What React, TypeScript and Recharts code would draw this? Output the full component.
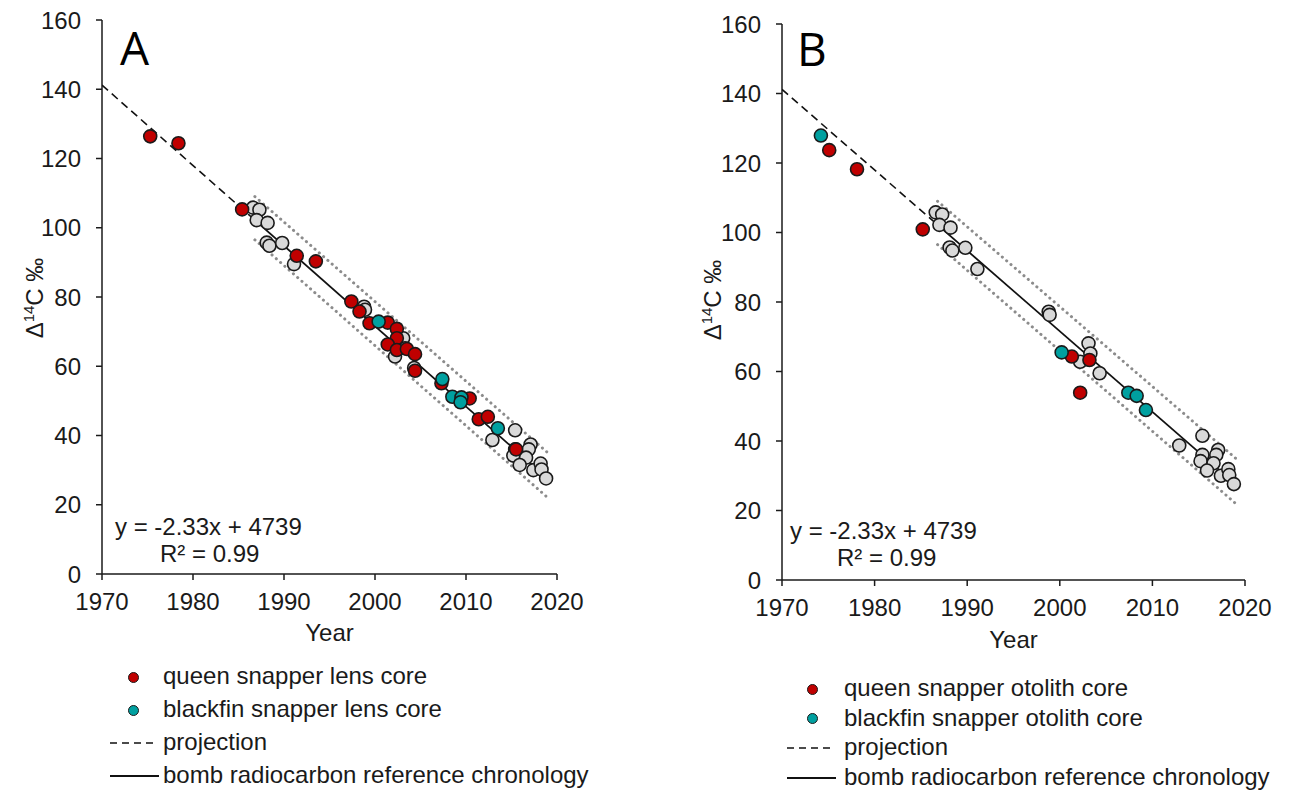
import React from 'react';
import { ScatterChart, Scatter, XAxis, YAxis } from 'recharts';

// [year, Δ14C ‰]
const referenceSamples = [
  [1986.6, 105.8], [1987.3, 105.2], [1987.0, 102.2], [1988.2, 101.4], [1988.1, 95.7],
  [1988.4, 94.8], [1989.8, 95.6], [1991.1, 89.5], [1998.8, 77.2], [1998.9, 76.3],
  [2003.1, 68.1], [2003.3, 65.2], [2002.2, 62.8], [2004.3, 59.5], [2012.9, 38.7],
  [2015.4, 41.5], [2015.4, 36.0], [2015.2, 34.2], [2017.1, 37.4], [2016.9, 36.0],
  [2016.6, 33.6], [2015.9, 31.5], [2017.4, 30.0], [2018.2, 31.9], [2018.3, 30.2],
  [2018.8, 27.6],
];

const queenLens = [
  [1975.3, 126.4], [1978.4, 124.4], [1985.4, 105.3], [1991.4, 91.9], [1993.5, 90.3],
  [1997.4, 78.7], [1998.3, 75.8], [1999.4, 72.4], [2001.4, 72.6], [2002.4, 70.8],
  [2002.4, 68.1], [2001.4, 66.3], [2002.4, 64.7], [2003.5, 65.0], [2004.4, 63.5],
  [2004.4, 58.7], [2007.3, 55.1], [2010.4, 50.7], [2011.4, 44.7], [2012.4, 45.4],
  [2015.5, 36.0],
];
const blackfinLens = [
  [2000.4, 72.9], [2007.4, 56.3], [2008.5, 51.2], [2009.5, 51.0], [2009.4, 49.6], [2013.5, 42.1],
];

const queenOtolith = [
  [1975.1, 123.7], [1978.1, 118.2], [1985.2, 100.9], [2001.3, 64.3], [2003.2, 63.3], [2002.2, 53.9],
];
const blackfinOtolith = [
  [1974.2, 127.9], [2000.2, 65.5], [2007.4, 53.9], [2008.3, 53.0], [2009.3, 48.9],
];

// regression lines
const projection = [[1970, 141.2], [1986.8, 102.2]];
const chronology = [[1986.8, 102.2], [2019.0, 27.5]];
const upperBand = [[1986.8, 109.0], [2019.0, 35.0]];
const lowerBand = [[1986.8, 96.5], [2019.0, 22.0]];

const yearTicks = [1970, 1980, 1990, 2000, 2010, 2020];
const d14cTicks = [0, 20, 40, 60, 80, 100, 120, 140, 160];

const RED = '#c00000';
const TEAL = '#00a0a0';
const GREY = '#d9d9d9';
const FONT = '"Liberation Sans", Arial, sans-serif';
const INK = '#1a1a1a';

const toPts = (rows: number[][]) => rows.map(([year, d14c]) => ({ year, d14c }));

const dot = (fill: string) => (props: any) => (
  <circle cx={props.cx} cy={props.cy} r={6.5} fill={fill} stroke={INK} strokeWidth={1.6} />
);
const noDot = () => <g />;

const bandLine = { stroke: '#8c8c8c', strokeWidth: 3, strokeDasharray: '0.1 5.6', strokeLinecap: 'round' };

interface PanelProps {
  left: number;
  width: number;
  height: number;
  margin: { top: number; right: number; left: number; bottom: number };
  queen: number[][];
  blackfin: number[][];
  yearOffset: number;
}

const Panel: React.FC<PanelProps> = ({ left, width, height, margin, queen, blackfin, yearOffset }) => {
  const axisStyle = { stroke: INK, strokeWidth: 1.5 };
  return (
    <div style={{ position: 'absolute', left, top: 0 }}>
      <ScatterChart width={width} height={height} margin={margin}>
        <XAxis
          type="number"
          dataKey="year"
          domain={[1970, 2020]}
          ticks={yearTicks}
          allowDataOverflow
          height={70}
          axisLine={axisStyle}
          tickLine={axisStyle}
          tickSize={6}
          tickMargin={13}
          tick={{ fill: INK, fontSize: 24, fontFamily: FONT }}
          label={{ value: 'Year', position: 'insideBottom', offset: yearOffset, fill: INK, fontSize: 24, fontFamily: FONT }}
        />
        <YAxis
          type="number"
          dataKey="d14c"
          domain={[0, 160]}
          ticks={d14cTicks}
          allowDataOverflow
          width={50}
          axisLine={axisStyle}
          tickLine={axisStyle}
          tickSize={6}
          tickMargin={15}
          tick={{ fill: INK, fontSize: 24, fontFamily: FONT }}
        />
        <Scatter data={toPts(upperBand)} line={bandLine} lineType="joint" shape={noDot} isAnimationActive={false} />
        <Scatter data={toPts(lowerBand)} line={bandLine} lineType="joint" shape={noDot} isAnimationActive={false} />
        <Scatter data={toPts(projection)} line={{ stroke: '#111', strokeWidth: 1.6, strokeDasharray: '8 5' }} lineType="joint" shape={noDot} isAnimationActive={false} />
        <Scatter data={toPts(chronology)} line={{ stroke: '#111', strokeWidth: 1.8 }} lineType="joint" shape={noDot} isAnimationActive={false} />
        <Scatter data={toPts(referenceSamples)} shape={dot(GREY)} isAnimationActive={false} />
        <Scatter data={toPts(queen)} shape={dot(RED)} isAnimationActive={false} />
        <Scatter data={toPts(blackfin)} shape={dot(TEAL)} isAnimationActive={false} />
      </ScatterChart>
    </div>
  );
};

const textStyle: React.CSSProperties = { position: 'absolute', fontFamily: FONT, fontSize: 24, color: INK, whiteSpace: 'nowrap', lineHeight: '24px' };

const YLabel: React.FC<{ cx: number; cy: number }> = ({ cx, cy }) => (
  <div style={{ ...textStyle, left: cx, top: cy, transform: 'translate(-50%, -50%) rotate(-90deg)', fontSize: 24 }}>
    Δ<sup style={{ fontSize: 15, verticalAlign: 'super', lineHeight: 0 }}>14</sup>C ‰
  </div>
);

const Letter: React.FC<{ x: number; y: number; text: string }> = ({ x, y, text }) => (
  <div style={{ position: 'absolute', left: x, top: y, fontFamily: '"Open Sans", sans-serif', fontSize: 46, color: '#000', lineHeight: '54px' }}>
    {text}
  </div>
);

const LegendBlock: React.FC<{ x: number; y: number; step: number; textX: number; markerX: number; labels: string[] }> = ({ x, y, step, textX, markerX, labels }) => (
  <>
    {[RED, TEAL].map((c, i) => (
      <div key={c} style={{ position: 'absolute', left: markerX - 5.5, top: y + i * step - 5.5, width: 9, height: 9, borderRadius: '50%', background: c, border: `1.3px solid ${INK}` }} />
    ))}
    <svg style={{ position: 'absolute', left: x, top: y + 2 * step - 2 }} width={50} height={4}>
      <line x1={0} y1={2} x2={46} y2={2} stroke="#111" strokeWidth={1.6} strokeDasharray="7 5" />
    </svg>
    <svg style={{ position: 'absolute', left: x, top: y + 3 * step - 2 }} width={52} height={4}>
      <line x1={0} y1={2} x2={49} y2={2} stroke="#111" strokeWidth={1.8} />
    </svg>
    {labels.map((t, i) => (
      <div key={t} style={{ ...textStyle, left: textX, top: y + i * step - 13 }}>{t}</div>
    ))}
  </>
);

export default function App() {
  return (
    <div style={{ position: 'absolute', left: 0, top: 0, width: 1290, height: 790, background: '#fff', overflow: 'hidden' }}>
      <Panel
        left={0}
        width={600}
        height={660}
        margin={{ top: 20, right: 43, left: 52, bottom: 16 }}
        queen={queenLens}
        blackfin={blackfinLens}
        yearOffset={3}
      />
      <Panel
        left={680}
        width={610}
        height={666}
        margin={{ top: 24, right: 45, left: 52, bottom: 16 }}
        queen={queenOtolith}
        blackfin={blackfinOtolith}
        yearOffset={2}
      />
      <Letter x={120} y={20} text="A" />
      <Letter x={797} y={21} text="B" />
      <YLabel cx={35} cy={298} />
      <YLabel cx={713} cy={300} />

      <div style={{ ...textStyle, left: 115, top: 515 }}>y = -2.33x + 4739</div>
      <div style={{ ...textStyle, left: 160, top: 542 }}>R² = 0.99</div>
      <div style={{ ...textStyle, left: 790, top: 519 }}>y = -2.33x + 4739</div>
      <div style={{ ...textStyle, left: 837, top: 546 }}>R² = 0.99</div>

      <LegendBlock
        x={110}
        y={677}
        step={33}
        markerX={133}
        textX={163}
        labels={['queen snapper lens core', 'blackfin snapper lens core', 'projection', 'bomb radiocarbon reference chronology']}
      />
      <LegendBlock
        x={787}
        y={689}
        step={29.5}
        markerX={812}
        textX={844}
        labels={['queen snapper otolith core', 'blackfin snapper otolith core', 'projection', 'bomb radiocarbon reference chronology']}
      />
    </div>
  );
}
